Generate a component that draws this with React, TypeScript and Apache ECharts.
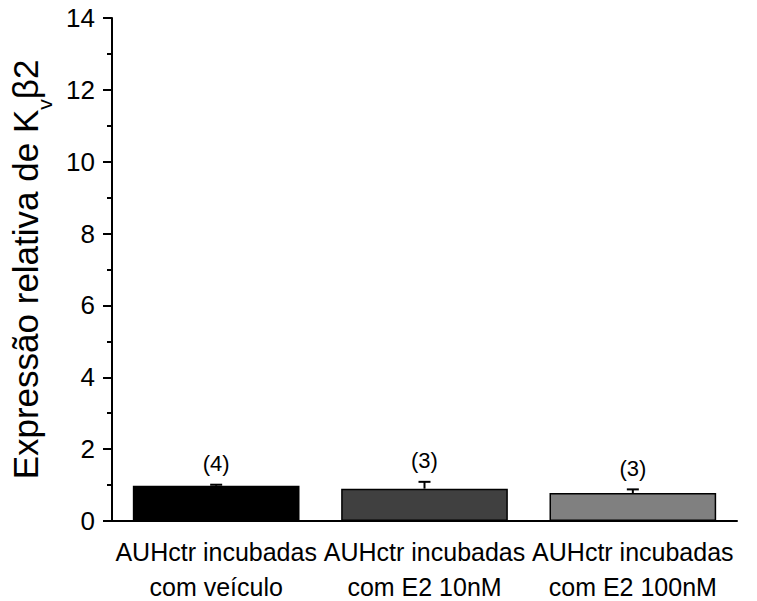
import React, { useEffect, useRef } from "react";
import * as echarts from "echarts";

const FONT = "'Liberation Sans', Arial, sans-serif";

const categories = [
  "AUHctr incubadas\ncom veículo",
  "AUHctr incubadas\ncom E2 10nM",
  "AUHctr incubadas\ncom E2 100nM",
];
const means = [0.98, 0.9, 0.78];
const sems = [0.03, 0.19, 0.1];
const sampleSizes = [4, 3, 3];
const barColors = ["#000000", "#404040", "#808080"];

export default function App() {
  const ref = useRef<HTMLDivElement>(null);

  useEffect(() => {
    if (!ref.current) return;
    const chart = echarts.init(ref.current, null, { renderer: "svg" });

    const axisLineStyle = { color: "#000", width: 2 };

    chart.setOption({
      animation: false,
      backgroundColor: "#fff",
      grid: {
        left: 112,
        right: 20,
        top: 18,
        bottom: 80,
        containLabel: false,
        outerBoundsMode: "none",
      },
      xAxis: [
        {
          type: "category",
          data: categories,
          position: "bottom",
          axisLine: { lineStyle: axisLineStyle },
          axisTick: { alignWithLabel: true, length: 10, lineStyle: axisLineStyle },
          axisLabel: {
            interval: 0,
            color: "#000",
            fontFamily: FONT,
            fontSize: 25,
            lineHeight: 35,
            margin: 13,
          },
          splitLine: { show: false },
        },
        {
          type: "category",
          data: categories,
          position: "bottom",
          offset: 0,
          axisLine: { show: false },
          axisTick: { length: 6, lineStyle: axisLineStyle },
          axisLabel: { show: false },
          splitLine: { show: false },
        },
      ],
      yAxis: {
        type: "value",
        min: 0,
        max: 14,
        interval: 2,
        name: "Expressão relativa de K{sub|v}β2",
        nameLocation: "middle",
        nameRotate: 90,
        nameGap: 50,
        nameTextStyle: {
          color: "#000",
          fontFamily: FONT,
          fontSize: 35,
          lineHeight: 60,
          rich: {
            sub: {
              fontFamily: FONT,
              fontSize: 21,
              lineHeight: 21,
              verticalAlign: "bottom",
              color: "#000",
            },
          },
        },
        axisLine: { show: true, lineStyle: axisLineStyle },
        axisTick: { show: true, length: 9, lineStyle: axisLineStyle },
        minorTick: { show: true, splitNumber: 2, length: 5, lineStyle: axisLineStyle },
        axisLabel: { color: "#000", fontFamily: FONT, fontSize: 26, margin: 17 },
        splitLine: { show: false },
        minorSplitLine: { show: false },
      },
      series: [
        {
          type: "bar",
          xAxisIndex: 0,
          barWidth: "80%",
          data: means.map((v, i) => ({
            value: v,
            itemStyle: { color: barColors[i], borderColor: "#000", borderWidth: 1.5 },
          })),
        },
        {
          type: "custom",
          xAxisIndex: 0,
          z: 5,
          data: means.map((v, i) => [i, v, sems[i], sampleSizes[i]]),
          renderItem: (params: any, api: any) => {
            const idx = api.value(0);
            const base = api.coord([idx, api.value(1)]);
            const top = api.coord([idx, api.value(1) + api.value(2)]);
            const x = base[0];
            const cap = 6;
            const lineStyle = { stroke: "#000", lineWidth: 2 };
            return {
              type: "group",
              children: [
                { type: "line", shape: { x1: x, y1: base[1], x2: x, y2: top[1] }, style: lineStyle },
                { type: "line", shape: { x1: x - cap, y1: top[1], x2: x + cap, y2: top[1] }, style: lineStyle },
                {
                  type: "text",
                  style: {
                    text: `(${api.value(3)})`,
                    x,
                    y: top[1] - 21,
                    align: "center",
                    verticalAlign: "middle",
                    fontSize: 22,
                    fontFamily: FONT,
                    fill: "#000",
                  },
                },
              ],
            };
          },
        },
      ],
    });

    return () => chart.dispose();
  }, []);

  return (
    <div
      ref={ref}
      style={{ position: "absolute", left: 0, top: 0, width: 757, height: 601, background: "#fff" }}
    />
  );
}
